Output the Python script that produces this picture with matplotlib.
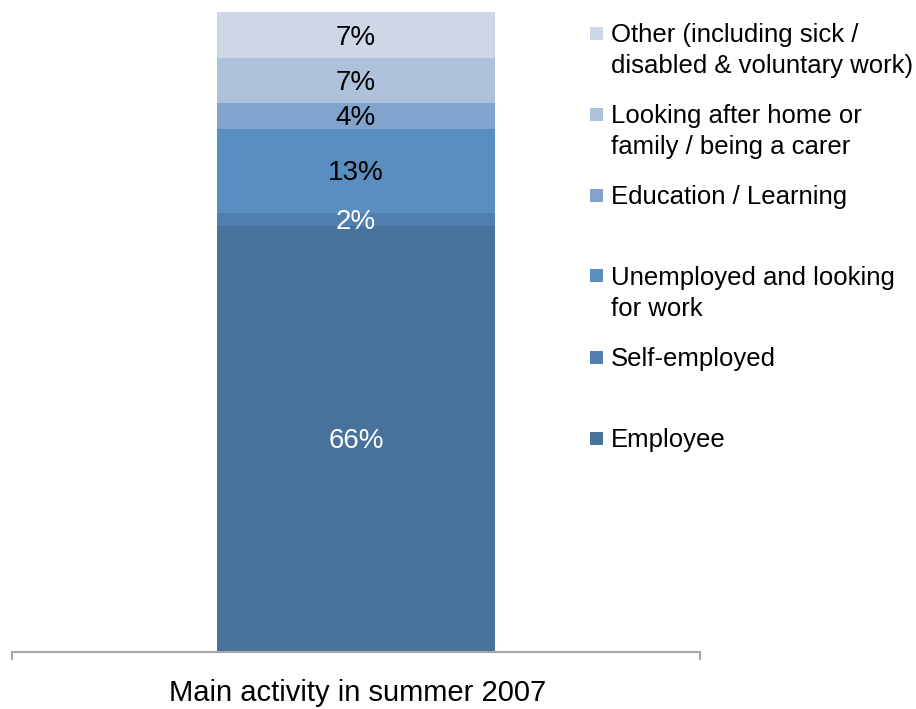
import matplotlib
matplotlib.use("Agg")
import matplotlib.pyplot as plt
from matplotlib.patches import Rectangle

plt.rcParams["font.family"] = ["Liberation Sans", "DejaVu Sans"]

# Main activity in summer 2007 (share of respondents, %)
categories = [
    "Employee",
    "Self-employed",
    "Unemployed and looking\nfor work",
    "Education / Learning",
    "Looking after home or\nfamily / being a carer",
    "Other (including sick /\ndisabled & voluntary work)",
]
values = [66, 2, 13, 4, 7, 7]
group_label = "Main activity in summer 2007"

colors = ["#48729B", "#5180B0", "#5A8EC1", "#82A3CD", "#ADC1DB", "#CED7E6"]
label_colors = ["white", "white", "black", "black", "black", "black"]

W, H = 916, 709
fig = plt.figure(figsize=(W / 100, H / 100), dpi=100)
ax = fig.add_axes([12 / W, 1 - 652 / H, (700 - 12) / W, (652 - 6) / H])

bottom = 0
for val, col, lc in zip(values, colors, label_colors):
    ax.bar(0, val, bottom=bottom, width=0.404, color=col, linewidth=0)
    ax.annotate(f"{val}%", (0, bottom + val / 2), xytext=(0, -2.5),
                textcoords="offset pixels", ha="center", va="center",
                fontsize=20, color=lc)
    bottom += val

ax.set_xlim(-0.5, 0.5)
ax.set_ylim(0, 100)
for side in ("left", "right", "top"):
    ax.spines[side].set_visible(False)
ax.spines["bottom"].set_color("#A6A6A6")
ax.spines["bottom"].set_linewidth(1.5)
ax.set_yticks([])
ax.set_xticks([-0.5, 0.5])
ax.set_xticklabels([])
ax.tick_params(axis="x", direction="out", length=6, width=1.5, color="#A6A6A6")
ax.text(0.002, -0.064, group_label, transform=ax.get_xaxis_transform(),
        ha="center", va="center", fontsize=21, color="black")

# Legend: entries listed top to bottom, from the top segment down
entry_y = [438, 357, 276, 195, 114, 33]
for cat, col, y in zip(categories, colors, entry_y):
    fig.patches.append(Rectangle((590 / W, 1 - (y + 6.5) / H), 13 / W, 13 / H,
                                 transform=fig.transFigure, facecolor=col,
                                 edgecolor="none"))
    fig.text(611 / W, 1 - (y - 10) / H, cat, ha="left", va="top",
             fontsize=18.5, color="black", linespacing=1.38)

fig.savefig("out.png", dpi=100)
